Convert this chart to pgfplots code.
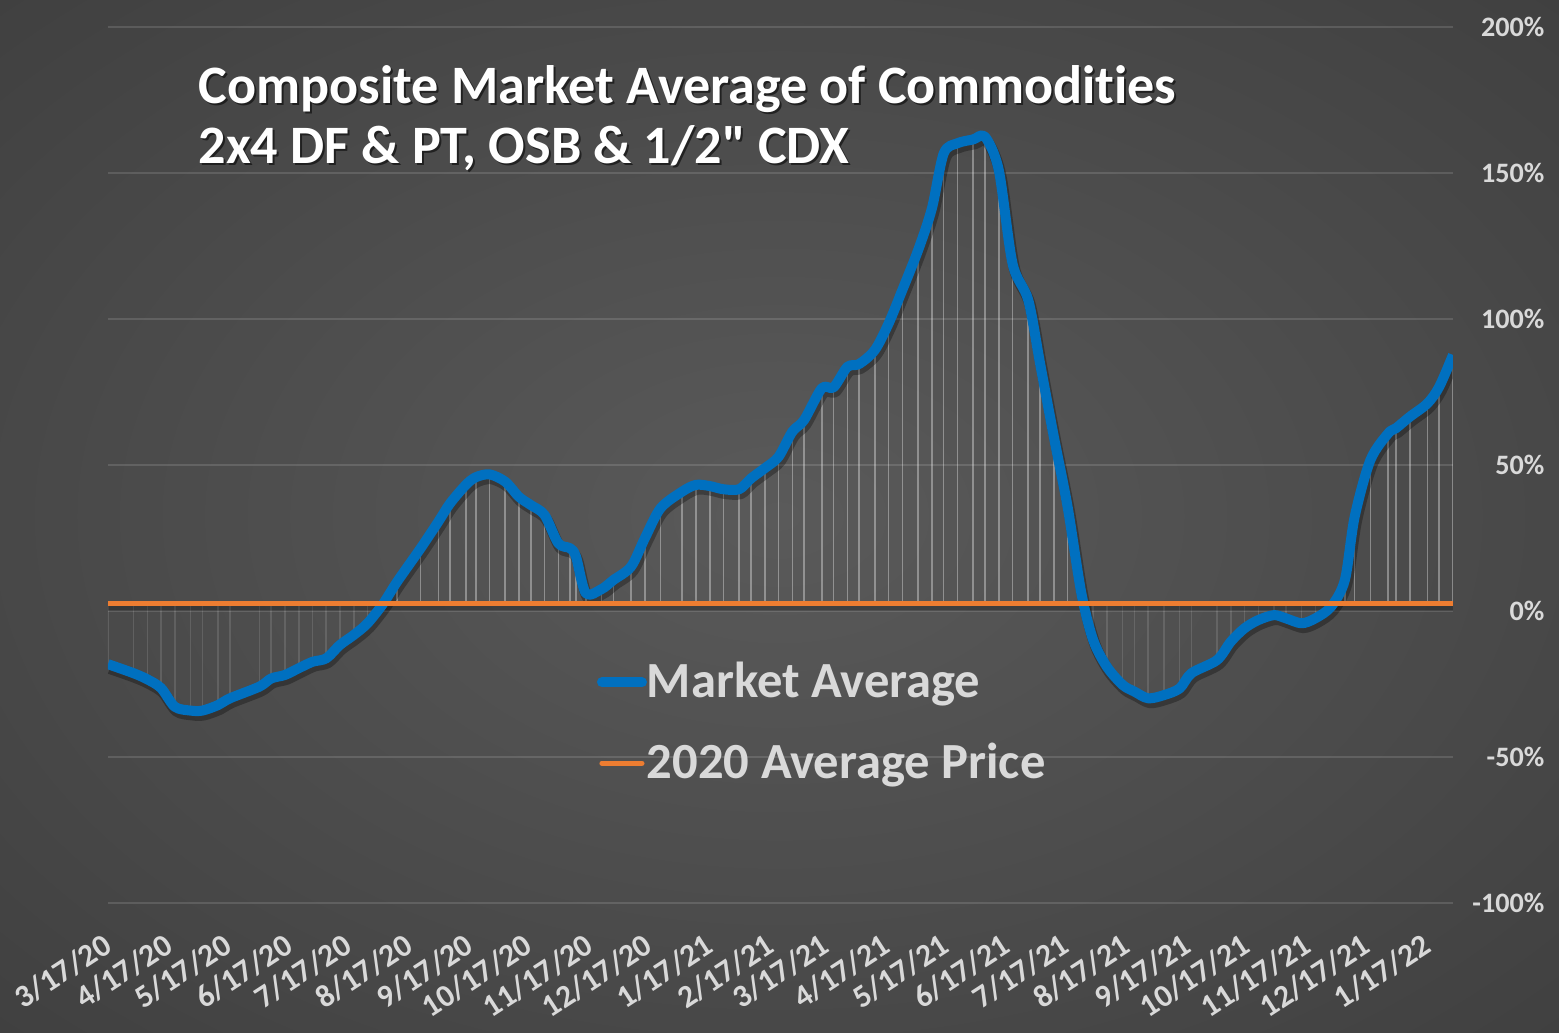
\documentclass[border=0pt]{standalone}
\usepackage{pgfplots}
\pgfplotsset{compat=1.18}
\usepackage{pgfplotstable}
\usepackage{fontspec}
\setmainfont{Carlito}[Ligatures={TeXOff,CommonOff}]

\definecolor{mablue}{HTML}{0070C0}
\definecolor{avgorange}{HTML}{ED7D31}
\definecolor{labelgray}{HTML}{D9D9D9}
\definecolor{bgin}{HTML}{5A5A5A}
\definecolor{bgout}{HTML}{262626}
\pgfdeclareradialshading{chartbg}{\pgfpoint{0bp}{0bp}}{color(0bp)=(bgin); color(71bp)=(bgout)}

% days since 3/17/20, percent vs. 2020 average
\pgfplotstableread{
x y
0 -18.2
13 -21.3
20 -23.4
27 -26.4
34 -32.8
42 -34.1
48 -34.1
56 -32.2
62 -29.9
77 -25.9
83 -23.1
90 -21.9
97 -19.6
104 -17.4
111 -16.2
118 -11.6
125 -8.2
132 -4.2
140 2.6
147 10.0
159 21.5
168 30.6
174 36.9
182 43.2
187 45.8
194 46.8
202 44.3
209 39.1
215 36.3
222 32.9
229 23.2
235 21.5
238 18.6
243 6.1
251 7.5
257 10.6
266 15.2
273 24.9
281 35.2
292 40.9
299 43.2
306 42.8
313 41.7
321 41.7
327 45.4
334 48.9
341 52.8
348 61.4
354 65.4
363 76.3
369 76.6
376 83.6
382 84.6
390 89.4
397 98.5
404 110
412 123.6
419 137.9
425 156.7
432 160.2
440 161.5
446 162.4
453 151
460 119
468 106.5
474 84.8
481 59.7
488 35.7
495 6.1
501 -9.9
508 -19.1
516 -25.3
522 -27.6
529 -29.9
537 -28.8
545 -26.5
551 -21.3
564 -16.8
571 -10.5
578 -5.9
585 -3.1
593 -1.4
599 -2.5
607 -4.2
614 -2.5
622 1.5
629 10.6
634 32.3
642 51.7
651 60.8
655 62.6
662 66.5
671 71.1
677 76.8
684 87.7
}\marketdata

\pgfplotstableread{
x y
0 2.7
684 2.7
}\avgdata

\begin{document}
\begin{tikzpicture}
\useasboundingbox (0,0) rectangle (15.59,10.32);
\shade[shading=chartbg] (0,0) rectangle (15.59,10.32);

\begin{axis}[
    at={(1.08cm,1.29cm)}, anchor=south west,
    scale only axis, width=13.45cm, height=8.76cm,
    xmin=0, xmax=684, ymin=-100, ymax=200,
    axis line style={draw=none},
    major tick length=0pt,
    ytick={-100,-50,0,50,100,150,200},
    yticklabels={-100\%,-50\%,0\%,50\%,100\%,150\%,200\%},
    yticklabel pos=right,
    ymajorgrids,
    major grid style={white, opacity=0.13, line width=0.6pt},
    xtick={0,31,61,92,122,153,184,214,245,275,306,337,365,396,426,457,487,518,549,579,610,640,671},
    xticklabels={3/17/20,4/17/20,5/17/20,6/17/20,7/17/20,8/17/20,9/17/20,10/17/20,11/17/20,12/17/20,
        1/17/21,2/17/21,3/17/21,4/17/21,5/17/21,6/17/21,7/17/21,8/17/21,9/17/21,10/17/21,11/17/21,12/17/21,1/17/22},
    tick label style={text=labelgray, inner sep=0pt},
    yticklabel style={font=\fontsize{8}{9.6}\bfseries\selectfont, anchor=east, xshift=0.92cm},
    xticklabel style={font=\fontsize{9}{11}\bfseries\selectfont, xshift=0.005cm, yshift=-0.39cm, rotate=33, anchor=east},
    legend style={at={(0.363,0.276)}, anchor=north west, draw=none, fill=none,
        font=\fontsize{14.4}{17}\bfseries\selectfont, text=labelgray,
        inner sep=0pt, row sep=11.4pt, column sep=0pt, nodes={inner sep=0pt}},
    legend cell align=left,
    legend image code/.code={\draw[#1, line cap=round] (0cm,0cm) -- (0.4cm,0cm);},
]

% drop lines above the average
\addplot[draw=none, forget plot, restrict y to domain=2.7:300,
    error bars/.cd, y dir=minus, y explicit,
    error mark=none, error bar style={draw=white, opacity=0.35, line width=0.45pt, solid}]
    table[x=x, y=y, y error expr=\thisrow{y}-2.7] {\marketdata};
% drop lines below the average
\addplot[draw=none, forget plot, restrict y to domain=-100:2.7,
    error bars/.cd, y dir=plus, y explicit,
    error mark=none, error bar style={draw=white, opacity=0.12, line width=0.45pt, solid}]
    table[x=x, y=y, y error expr=2.7-\thisrow{y}] {\marketdata};

% soft shadows under the two lines
\addplot[forget plot, black, opacity=0.25, line width=1.6pt, yshift=-1.3pt] table[x=x, y=y] {\avgdata};
\addplot[forget plot, black, opacity=0.3, line width=3.2pt, smooth, line join=round, xshift=0.5pt, yshift=-1.2pt] table[x=x, y=y] {\marketdata};

\addplot[mablue, line width=2.85pt, smooth, line join=round] table[x=x, y=y] {\marketdata};
\addlegendentry{Market Average}
\addplot[avgorange, line width=1.45pt] table[x=x, y=y] {\avgdata};
\addlegendentry{2020 Average Price}
\end{axis}

\begin{scope}[font=\fontsize{15.4}{18}\bfseries\selectfont]
\node[anchor=base west, inner sep=0pt, text=black, opacity=0.55] at (2.0,9.27) {Composite Market Average of Commodities};
\node[anchor=base west, inner sep=0pt, text=black, opacity=0.55] at (2.0,8.67) {2x4 DF \& PT, OSB \& 1/2" CDX};
\node[anchor=base west, inner sep=0pt, text=white] at (1.98,9.29) {Composite Market Average of Commodities};
\node[anchor=base west, inner sep=0pt, text=white] at (1.98,8.69) {2x4 DF \& PT, OSB \& 1/2" CDX};
\end{scope}
\end{tikzpicture}
\end{document}
